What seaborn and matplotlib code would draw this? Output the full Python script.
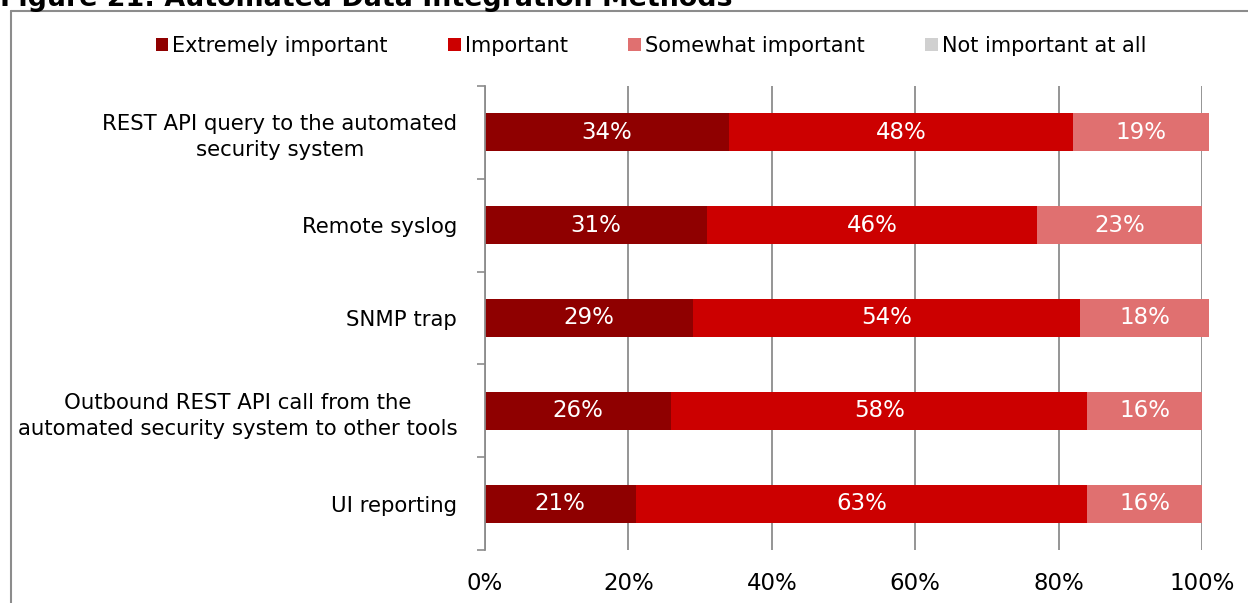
import matplotlib
matplotlib.use("Agg")
import matplotlib.pyplot as plt
from matplotlib.patches import Patch
from matplotlib.lines import Line2D
from matplotlib.ticker import FixedLocator, PercentFormatter
import seaborn as sns
import pandas as pd

# Survey responses per integration method (percent of respondents)
methods = [
    "REST API query to the automated\nsecurity system",
    "Remote syslog",
    "SNMP trap",
    "Outbound REST API call from the\nautomated security system to other tools",
    "UI reporting",
]
extremely_important = [34, 31, 29, 26, 21]
important = [48, 46, 54, 58, 63]
somewhat_important = [19, 23, 18, 16, 16]
not_important = [0, 0, 0, 0, 0]

series_names = ["Extremely important", "Important", "Somewhat important", "Not important at all"]
series_colors = ["#8f0000", "#cc0000", "#e07070", "#d0d0d0"]
xticks = [0, 20, 40, 60, 80, 100]

sns.set_theme(style="white")
plt.rcParams["font.family"] = ["DejaVu Sans"]
plt.rcParams["text.color"] = "black"

df = pd.DataFrame({
    "method": methods,
    "s1": extremely_important,
    "s2": important,
    "s3": somewhat_important,
    "s4": not_important,
})
cols = ["s1", "s2", "s3", "s4"]
cum = df[cols].cumsum(axis=1)
cum["method"] = df["method"]

W, H = 1248, 603
fig = plt.figure(figsize=(W / 100, H / 100), dpi=100)
ax = fig.add_axes([485 / W, 1 - 550 / H, (1202 - 485) / W, (550 - 86) / H])

# stacked bars: draw running totals from the outermost segment inward
for col, color in reversed(list(zip(cols, series_colors))):
    sns.barplot(data=cum, y="method", x=col, orient="h", color=color,
                saturation=1, width=0.41, linewidth=0, ax=ax)
for p in ax.patches:
    p.set_clip_on(False)

# value labels centred in each segment
for i in range(len(methods)):
    left = 0
    for col in cols[:3]:
        v = df[col].iloc[i]
        if v > 0:
            ax.text(left + v / 2, i, f"{v}%", ha="center", va="center",
                    color="white", fontsize=16.5)
        left += v

ax.set_xlim(0, 100)
ax.set_ylim(4.5, -0.5)
ax.set_xlabel("")
ax.set_ylabel("")
ax.xaxis.set_major_locator(FixedLocator(xticks))
ax.xaxis.set_major_formatter(PercentFormatter(decimals=0))
ax.xaxis.grid(True, color="#8c8c8c", linewidth=1.3)
ax.set_axisbelow(True)
ax.tick_params(axis="x", length=0, pad=16, labelsize=16.5, labelcolor="black")
ax.tick_params(axis="y", which="major", length=0, pad=20, labelsize=15.3, labelcolor="black")
ax.yaxis.set_minor_locator(FixedLocator([-0.5, 0.5, 1.5, 2.5, 3.5, 4.5]))
ax.tick_params(axis="y", which="minor", left=True, length=6, width=1.2, color="#8c8c8c", direction="out")
for lbl in ax.get_yticklabels():
    lbl.set_multialignment("center")
    lbl.set_linespacing(1.38)
for s in ["top", "right", "bottom"]:
    ax.spines[s].set_visible(False)
ax.spines["left"].set_color("#8c8c8c")
ax.spines["left"].set_linewidth(1.3)

handles = [Patch(facecolor=c, edgecolor="none") for c in series_colors]
fig.legend(handles, series_names, loc="center", bbox_to_anchor=(651 / W, 1 - 46 / H),
           ncol=4, frameon=False, fontsize=15, handlelength=0.6, handleheight=0.6,
           handletextpad=0.2, columnspacing=2.9, borderpad=0, labelcolor="black")

# outer frame
fy = 1 - 11 / H
fx = 10.5 / W
fig.add_artist(Line2D([fx, fx], [0, fy], transform=fig.transFigure, color="#8c8c8c", lw=1.5))
fig.add_artist(Line2D([fx, 1], [fy, fy], transform=fig.transFigure, color="#8c8c8c", lw=1.5))

fig.text(0, 1 - 6 / H, "Figure 21: Automated Data Integration Methods", ha="left",
         va="baseline", fontsize=19.4, fontweight="bold", color="black")

fig.savefig("out.png", dpi=100)
